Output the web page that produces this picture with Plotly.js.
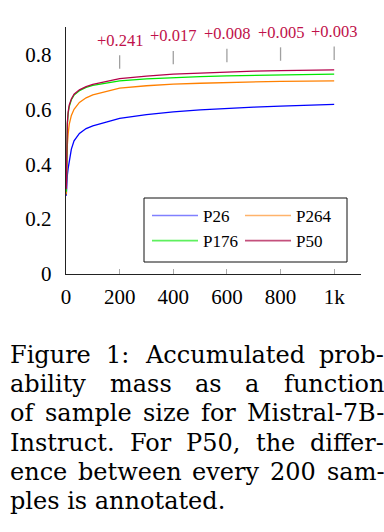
<!DOCTYPE html>
<html>
<head>
<meta charset="utf-8">
<script src="https://cdn.plot.ly/plotly-3.0.1.min.js"></script>
<style>
html,body{margin:0;padding:0;background:#fff;}
#chart{width:384px;height:532px;}
</style>
</head>
<body>
<div id="chart"></div>
<script>
// ---- data ----
var sampleSizes = [1, 2, 3, 5, 8, 12, 20, 30, 50, 75, 100, 150, 200, 300, 400, 500, 600, 700, 800, 900, 1000];
var p26  = [0.285, 0.31, 0.33, 0.36, 0.385, 0.41, 0.455, 0.485, 0.512, 0.530, 0.540, 0.553, 0.567, 0.581, 0.591, 0.598, 0.604, 0.608, 0.612, 0.615, 0.618];
var p264 = [0.29, 0.37, 0.42, 0.47, 0.51, 0.545, 0.578, 0.600, 0.625, 0.642, 0.653, 0.665, 0.677, 0.686, 0.692, 0.695, 0.698, 0.700, 0.702, 0.703, 0.704];
var p176 = [0.30, 0.44, 0.49, 0.545, 0.585, 0.61, 0.635, 0.652, 0.668, 0.680, 0.687, 0.696, 0.704, 0.711, 0.716, 0.719, 0.722, 0.724, 0.726, 0.727, 0.728];
var p50  = [0.31, 0.445, 0.495, 0.55, 0.59, 0.615, 0.638, 0.655, 0.671, 0.683, 0.691, 0.702, 0.712, 0.721, 0.728, 0.732, 0.736, 0.739, 0.741, 0.743, 0.744];
var seriesNames = ["P26", "P264", "P176", "P50"];
var annotX = [200, 400, 600, 800, 1000];
var diffLabels = ["+0.241", "+0.017", "+0.008", "+0.005", "+0.003"];
var xTickVals = [0, 200, 400, 600, 800, 1000];
var xTickText = ["0", "200", "400", "600", "800", "1k"];
var yTickVals = [0, 0.2, 0.4, 0.6, 0.8];
var yTickText = ["0", "0.2", "0.4", "0.6", "0.8"];
var captionLines = [
  "Figure 1: Accumulated prob-",
  "ability mass as a function",
  "of sample size for Mistral-7B-",
  "Instruct.  For P50, the differ-",
  "ence between every 200 sam-",
  "ples is annotated."
];

// ---- styles ----
var lineColors = ["#0000ff", "#ff8000", "#00e600", "#b4004a"];
var legendColors = ["#8080ff", "#ffb36b", "#5ef05e", "#c4507c"];
var legendIds = ["legend", "legend2", "legend", "legend2"];
var serif = "Liberation Serif";
var capFont = "DejaVu Serif";
var capSize = 24;

var W = 384, H = 532;
var M = {l: 66, r: 23, t: 27, b: 258};
var pw = W - M.l - M.r, ph = H - M.t - M.b;
function px2paperX(px){ return (px - M.l) / pw; }
function px2paperY(py){ return (H - M.b - py) / ph; }

var allSeries = [p26, p264, p176, p50];
var traces = [];
for (var i = 0; i < 4; i++) {
  traces.push({
    type: "scatter", mode: "lines", x: sampleSizes, y: allSeries[i],
    line: {color: lineColors[i], width: 1.3}, showlegend: false, hoverinfo: "skip"
  });
}
// gray markers above P50 at annotated sizes
var mx = [], my = [];
var annotations = [];
for (var k = 0; k < annotX.length; k++) {
  var v = p50[sampleSizes.indexOf(annotX[k])];
  mx.push(annotX[k], annotX[k], null);
  my.push(v + 0.036, v + 0.085, null);
  annotations.push({
    x: annotX[k], y: v + 0.14, xref: "x", yref: "y", text: diffLabels[k],
    showarrow: false, xanchor: "center", yanchor: "middle",
    font: {family: serif, size: 16.5, color: "#c0104a"}
  });
}
traces.push({type: "scatter", mode: "lines", x: mx, y: my,
  line: {color: "#a0a0a0", width: 1.3}, showlegend: false, hoverinfo: "skip"});
// legend entries (two columns as two legends)
for (var j = 0; j < 4; j++) {
  traces.push({type: "scatter", mode: "lines", x: [null], y: [null], name: seriesNames[j],
    legend: legendIds[j],
    line: {color: legendColors[j], width: 1.6}, showlegend: true});
}

// caption, justified
var canvas = document.createElement("canvas");
var ctx = canvas.getContext("2d");
ctx.font = capSize + "px '" + capFont + "'";
var capLeft = 9, capRight = 383, baseline0 = 362, lineGap = 29.3;
for (var li = 0; li < captionLines.length; li++) {
  var baseline = baseline0 + li * lineGap;
  var yc = px2paperY(baseline - 0.3 * capSize);
  if (li === captionLines.length - 1) {
    annotations.push({xref: "paper", yref: "paper", x: px2paperX(capLeft), y: yc,
      text: captionLines[li], showarrow: false, xanchor: "left", yanchor: "middle", borderpad: 0,
      font: {family: capFont, size: capSize, color: "#000"}});
    continue;
  }
  var words = captionLines[li].split(/\s+/);
  var widths = words.map(function(w){ return ctx.measureText(w).width; });
  var total = widths.reduce(function(a,b){return a+b;}, 0);
  var gap = (capRight - capLeft - total) / (words.length - 1);
  var xp = capLeft;
  for (var wi = 0; wi < words.length; wi++) {
    annotations.push({xref: "paper", yref: "paper", x: px2paperX(xp), y: yc,
      text: words[wi], showarrow: false, xanchor: "left", yanchor: "middle", borderpad: 0,
      font: {family: capFont, size: capSize, color: "#000"}});
    xp += widths[wi] + gap;
  }
}

var legendBase = {
  xanchor: "left", yanchor: "top", orientation: "v",
  borderwidth: 0, bgcolor: "rgba(0,0,0,0)",
  font: {family: serif, size: 17, color: "#000"},
  itemwidth: 46, tracegroupgap: 0
};
function legendAt(px, py) {
  var o = JSON.parse(JSON.stringify(legendBase));
  o.x = px2paperX(px); o.y = px2paperY(py);
  return o;
}

var layout = {
  width: W, height: H,
  margin: {l: M.l, r: M.r, t: M.t, b: M.b, pad: 0},
  paper_bgcolor: "#fff", plot_bgcolor: "#fff",
  font: {family: serif, color: "#000"},
  xaxis: {
    range: [0, 1100], tickvals: xTickVals, ticktext: xTickText,
    ticks: "inside", ticklen: 5, tickwidth: 1, tickcolor: "#aaaaaa",
    showline: true, linecolor: "#222", linewidth: 1.2, mirror: false,
    showgrid: false, zeroline: false, ticklabelstandoff: 4,
    tickfont: {family: serif, size: 21, color: "#000"}
  },
  yaxis: {
    range: [0, 0.9], tickvals: yTickVals, ticktext: yTickText,
    ticks: "", showline: true, linecolor: "#222", linewidth: 1.2,
    showgrid: false, zeroline: false, ticklabelstandoff: 9,
    tickfont: {family: serif, size: 21, color: "#000"}
  },
  legend: legendAt(147, 198),
  legend2: legendAt(240, 198),
  shapes: [{
    type: "rect", xref: "paper", yref: "paper",
    x0: px2paperX(144), x1: px2paperX(347), y0: px2paperY(262), y1: px2paperY(198),
    line: {color: "#111", width: 1}, fillcolor: "#fff", layer: "above"
  }],
  annotations: annotations,
  showlegend: true
};

Plotly.newPlot("chart", traces, layout, {staticPlot: true, displayModeBar: false});
</script>
</body>
</html>
